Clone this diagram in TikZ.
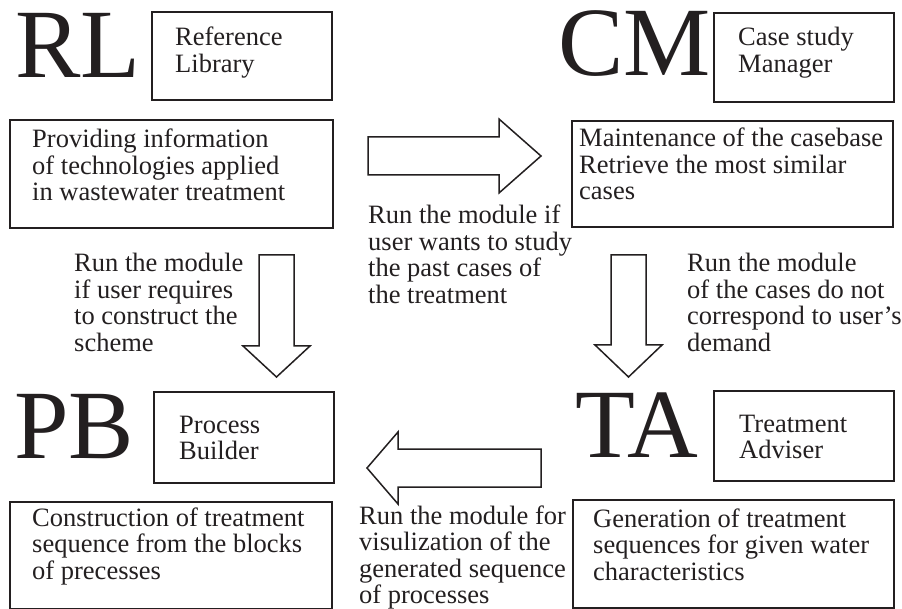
\documentclass[tikz,border=0pt]{standalone}
\usepackage{fontspec}
\setmainfont{Liberation Serif}
\definecolor{ink}{HTML}{231F20}
\begin{document}
\begin{tikzpicture}[x=1pt,y=-1pt,
  box/.style={draw=ink, line width=1.8pt, inner sep=0pt, anchor=north west},
  big/.style={font=\fontsize{98}{98}\selectfont, text=ink, inner sep=0pt, anchor=base west},
  txt/.style={font=\fontsize{26.5}{26.5}\selectfont, text=ink, inner sep=0pt, anchor=base west, align=left},
  blockarrow/.style={draw=ink, line width=1.5pt, fill=white, line join=miter}]
\useasboundingbox (0,0) rectangle (902,609);
\fill[white] (0,0) rectangle (902,609);

% (text nodes are anchored at the baseline of their last line)
% ---------- RL ----------
\node[big] (rl) at (15,78) {RL};
\node[box, minimum width=180pt, minimum height=88pt] (rlname) at (151,11) {};
\node[txt] (rlnametext) at (175,72.5) {Reference\\Library};
\node[box, minimum width=323pt, minimum height=108pt] (rldesc) at (9,119) {};
\node[txt] (rldesctext) at (32,201) {Providing information\\of technologies applied\\in wastewater treatment};

% ---------- CM ----------
\node[big] (cm) at (558,76) {CM};
\node[box, minimum width=180pt, minimum height=89pt] (cmname) at (713,12) {};
\node[txt] (cmnametext) at (738,72.5) {Case study\\Manager};
\node[box, minimum width=321pt, minimum height=106pt] (cmdesc) at (571,120) {};
\node[txt] (cmdesctext) at (579,200) {Maintenance of the casebase\\Retrieve the most similar\\cases};

% ---------- PB ----------
\node[big] (pb) at (14,458) {PB};
\node[box, minimum width=180pt, minimum height=91pt] (pbname) at (153,391) {};
\node[txt] (pbnametext) at (179,459.5) {Process\\Builder};
\node[box, minimum width=322pt, minimum height=107pt] (pbdesc) at (9,501) {};
\node[txt] (pbdesctext) at (32,579) {Construction of treatment\\sequence from the blocks\\of precesses};

% ---------- TA ----------
\node[big] (ta) at (575,457) {TA};
\node[box, minimum width=180pt, minimum height=90pt] (taname) at (713,390) {};
\node[txt] (tanametext) at (739,458.5) {Treatment\\Adviser};
\node[box, minimum width=321pt, minimum height=108pt] (tadesc) at (572,499) {};
\node[txt] (tadesctext) at (593,580) {Generation of treatment\\sequences for given water\\characteristics};

% ---------- block arrows ----------
% RL -> CM
\coordinate (a1) at (368,156);
\draw[blockarrow] (368,137) -- (499,137) -- (499,119) -- (541,156) -- (499,193) -- (499,175) -- (368,175) -- cycle;
% RL -> PB
\coordinate (a2) at (276.5,255);
\draw[blockarrow] (259,255) -- (259,346) -- (243,346) -- (276.5,377) -- (310,346) -- (294,346) -- (294,255) -- cycle;
% CM -> TA
\coordinate (a3) at (628.5,255);
\draw[blockarrow] (611,255) -- (611,345) -- (595,345) -- (628.5,377) -- (662,345) -- (646,345) -- (646,255) -- cycle;
% TA -> PB
\coordinate (a4) at (541,468);
\draw[blockarrow] (541,449) -- (398,449) -- (398,432) -- (367,468) -- (398,504) -- (398,487) -- (541,487) -- cycle;

% ---------- arrow labels ----------
\node[txt] (l1) at (368,303.5) {Run the module if\\user wants to study\\the past cases of\\the treatment};
\node[txt] (l2) at (74,351.5) {Run the module\\if user requires\\to construct the\\scheme};
\node[txt] (l3) at (687,351.5) {Run the module\\of the cases do not\\correspond to user’s\\demand};
\node[txt] (l4) at (359,603.5) {Run the module for\\visulization of the\\generated sequence\\of processes};
\end{tikzpicture}
\end{document}
